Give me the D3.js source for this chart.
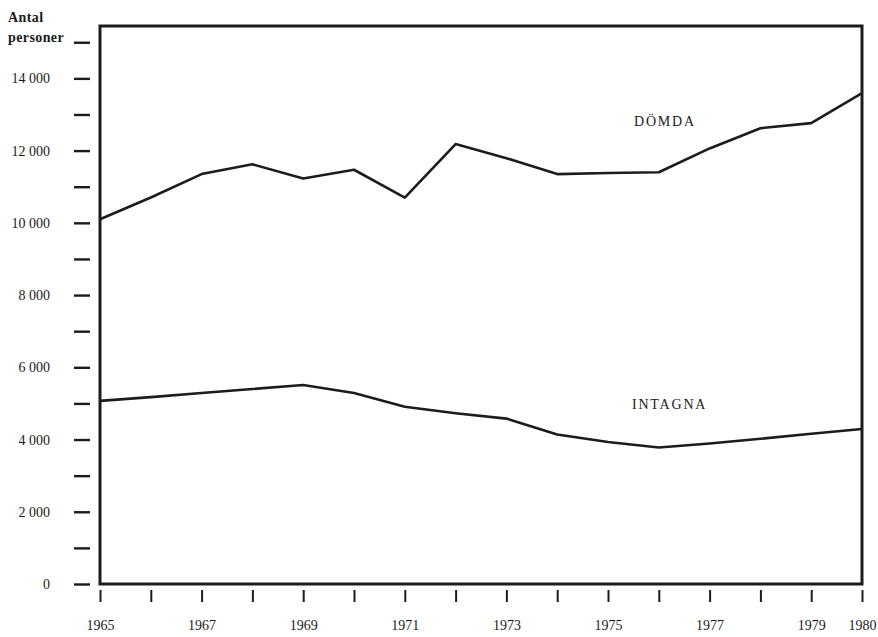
<!DOCTYPE html>
<html>
<head>
<meta charset="utf-8">
<script src="https://cdn.jsdelivr.net/npm/d3@7"></script>
<style>
	body { margin: 0; background: #fff; }
	svg text { font-family: "Liberation Serif", "DejaVu Serif", serif; fill: #1a1a1a; }
</style>
</head>
<body>
<div id="chart-area"></div>
<script>

//**************** Data *****************//

let years = [1965, 1966, 1967, 1968, 1969, 1970, 1971, 1972,
	1973, 1974, 1975, 1976, 1977, 1978, 1979, 1980];

let domda = [10100, 10700, 11350, 11620, 11230, 11470, 10700, 12180,
	11790, 11350, 11380, 11400, 12060, 12620, 12760, 13590];

let intagna = [5070, 5175, 5290, 5400, 5510, 5290, 4910, 4730,
	4580, 4140, 3930, 3780, 3890, 4020, 4160, 4290];

let yTicks = d3.range(0, 15001, 1000);
let yLabelTicks = [0, 2000, 4000, 6000, 8000, 10000, 12000, 14000];
let xLabelYears = [1965, 1967, 1969, 1971, 1973, 1975, 1977, 1979, 1980];


//**************** Canvas *****************//

let width = 878, height = 637;

let svg = d3.select('#chart-area').append('svg')
	.attr('width', width)
	.attr('height', height);

let ink = '#1c1c1c';
let serif = '"Liberation Serif", "DejaVu Serif", serif';


//**************** Scales & Axes *****************//

let x = d3.scaleLinear()
	.domain([1965, 1980])
	.range([100, 862]);

let y = d3.scaleLinear()
	.domain([0, 15450])
	.range([584, 26]);

let sv = d3.formatLocale({ decimal: ',', thousands: ' ', grouping: [3], currency: ['', ''] });
let fmt = sv.format(',d');

// Y axis
let yAxisCall = d3.axisLeft(y)
	.tickValues(yTicks)
	.tickSize(16)
	.tickPadding(24)
	.tickFormat(d => yLabelTicks.includes(d) ? fmt(d) : '');

let yAxisGroup = svg.append('g')
	.attr('class', 'y-axis')
	.attr('transform', 'translate(90, 0)')
	.call(yAxisCall)
	.attr('font-family', serif);

yAxisGroup.select('.domain').remove();
yAxisGroup.selectAll('line').attr('stroke', ink).attr('stroke-width', 2.4);
yAxisGroup.selectAll('text')
	.attr('font-size', '14px')
	.attr('fill', ink);

// X axis
let xAxisCall = d3.axisBottom(x)
	.tickValues(years)
	.tickSize(12)
	.tickPadding(18)
	.tickFormat(d => xLabelYears.includes(d) ? d : '');

let xAxisGroup = svg.append('g')
	.attr('class', 'x-axis')
	.attr('transform', 'translate(0, 590)')
	.call(xAxisCall)
	.attr('font-family', serif);

xAxisGroup.select('.domain').remove();
xAxisGroup.selectAll('line').attr('stroke', ink).attr('stroke-width', 2);
xAxisGroup.selectAll('text')
	.attr('font-size', '14px')
	.attr('fill', ink);


//**************** Frame *****************//

svg.append('rect')
	.attr('x', x(1965))
	.attr('y', y(15450))
	.attr('width', x(1980) - x(1965))
	.attr('height', y(0) - y(15450))
	.attr('fill', 'none')
	.attr('stroke', ink)
	.attr('stroke-width', 3);


//**************** Lines *****************//

let line = d3.line()
	.x((d, i) => x(years[i]))
	.y(d => y(d));

[domda, intagna].forEach(series => {
	svg.append('path')
		.datum(series)
		.attr('fill', 'none')
		.attr('stroke', ink)
		.attr('stroke-width', 2.6)
		.attr('stroke-linejoin', 'round')
		.attr('d', line);
});


//**************** Labels *****************//

svg.append('text')
	.attr('x', 8)
	.attr('y', 22)
	.attr('font-family', serif)
	.attr('font-size', '14px')
	.attr('font-weight', 'bold')
	.attr('letter-spacing', '0.4px')
	.text('Antal');

svg.append('text')
	.attr('x', 8)
	.attr('y', 42)
	.attr('font-family', serif)
	.attr('font-size', '14px')
	.attr('font-weight', 'bold')
	.attr('letter-spacing', '0.4px')
	.text('personer');

svg.append('text')
	.attr('x', 634)
	.attr('y', 126)
	.attr('font-family', serif)
	.attr('font-size', '14px')
	.attr('letter-spacing', '1.8px')
	.text('DÖMDA');

svg.append('text')
	.attr('x', 632)
	.attr('y', 409)
	.attr('font-family', serif)
	.attr('font-size', '14px')
	.attr('letter-spacing', '1.8px')
	.text('INTAGNA');

</script>
</body>
</html>
